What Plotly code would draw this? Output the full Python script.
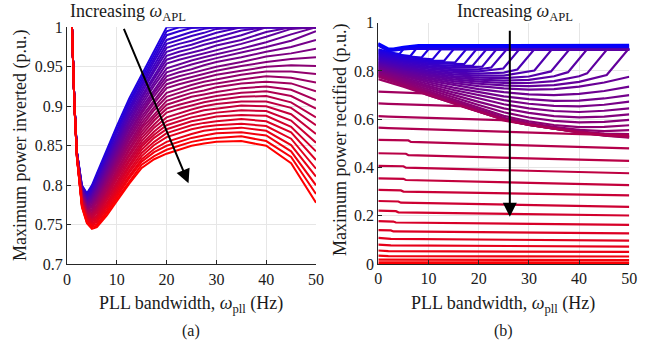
import plotly.graph_objects as go

W, H = 661, 340
FONT = "Liberation Serif"
TXT = "#1a1a1a"
AX = "#262626"
GRID = "#e6e6e6"

# ---------------- (a) Maximum power inverted ----------------
INV_X = [1, 1.5, 2, 3, 4, 5, 6, 8, 10, 12.5, 15, 17.5, 20, 22.5, 25, 27.5, 30, 35, 40, 45, 50]
# rows ordered from highest omega_APL (red, lowest curve) to lowest omega_APL (blue, highest curve)
INV_Y = [
    [1.0, 0.900, 0.835, 0.772, 0.752, 0.745, 0.747, 0.762, 0.780, 0.802, 0.822, 0.833, 0.840, 0.845, 0.850, 0.853, 0.855, 0.856, 0.850, 0.828, 0.778],
    [1.0, 0.900, 0.835, 0.773, 0.753, 0.747, 0.749, 0.765, 0.783, 0.805, 0.826, 0.837, 0.845, 0.850, 0.855, 0.858, 0.860, 0.862, 0.856, 0.836, 0.789],
    [1.0, 0.900, 0.835, 0.774, 0.754, 0.749, 0.751, 0.767, 0.786, 0.809, 0.830, 0.842, 0.850, 0.855, 0.860, 0.863, 0.866, 0.867, 0.863, 0.843, 0.800],
    [1.0, 0.900, 0.836, 0.775, 0.756, 0.750, 0.754, 0.770, 0.789, 0.812, 0.833, 0.846, 0.855, 0.860, 0.865, 0.869, 0.871, 0.873, 0.869, 0.851, 0.811],
    [1.0, 0.900, 0.836, 0.776, 0.757, 0.752, 0.756, 0.773, 0.792, 0.816, 0.837, 0.851, 0.861, 0.866, 0.871, 0.874, 0.876, 0.878, 0.875, 0.859, 0.821],
    [1.0, 0.900, 0.836, 0.776, 0.758, 0.754, 0.758, 0.775, 0.795, 0.819, 0.841, 0.855, 0.866, 0.871, 0.876, 0.879, 0.881, 0.884, 0.881, 0.867, 0.832],
    [1.0, 0.900, 0.836, 0.777, 0.759, 0.756, 0.760, 0.778, 0.798, 0.823, 0.845, 0.860, 0.871, 0.876, 0.881, 0.884, 0.887, 0.889, 0.888, 0.874, 0.843],
    [1.0, 0.900, 0.837, 0.778, 0.761, 0.757, 0.762, 0.781, 0.801, 0.826, 0.849, 0.864, 0.876, 0.881, 0.886, 0.889, 0.892, 0.895, 0.894, 0.882, 0.854],
    [1.0, 0.901, 0.837, 0.779, 0.762, 0.759, 0.765, 0.783, 0.804, 0.830, 0.852, 0.868, 0.881, 0.886, 0.891, 0.895, 0.897, 0.901, 0.900, 0.890, 0.865],
    [1.0, 0.901, 0.837, 0.780, 0.763, 0.761, 0.767, 0.786, 0.808, 0.833, 0.856, 0.873, 0.886, 0.891, 0.896, 0.900, 0.903, 0.906, 0.906, 0.898, 0.876],
    [1.0, 0.901, 0.837, 0.781, 0.764, 0.763, 0.769, 0.789, 0.811, 0.837, 0.860, 0.877, 0.892, 0.897, 0.901, 0.905, 0.908, 0.912, 0.913, 0.905, 0.886],
    [1.0, 0.901, 0.837, 0.782, 0.766, 0.764, 0.771, 0.791, 0.814, 0.840, 0.864, 0.882, 0.897, 0.902, 0.906, 0.910, 0.913, 0.917, 0.919, 0.913, 0.897],
    [1.0, 0.901, 0.838, 0.783, 0.767, 0.766, 0.773, 0.794, 0.817, 0.844, 0.868, 0.886, 0.902, 0.907, 0.912, 0.915, 0.918, 0.923, 0.925, 0.921, 0.908],
    [1.0, 0.901, 0.838, 0.784, 0.768, 0.768, 0.775, 0.797, 0.820, 0.847, 0.872, 0.890, 0.907, 0.912, 0.917, 0.920, 0.924, 0.929, 0.931, 0.929, 0.919],
    [1.0, 0.901, 0.838, 0.785, 0.769, 0.770, 0.778, 0.800, 0.823, 0.851, 0.875, 0.895, 0.912, 0.917, 0.922, 0.926, 0.929, 0.934, 0.938, 0.936, 0.930],
    [1.0, 0.901, 0.838, 0.786, 0.770, 0.772, 0.780, 0.802, 0.826, 0.854, 0.879, 0.899, 0.917, 0.922, 0.927, 0.931, 0.934, 0.940, 0.944, 0.944, 0.941],
    [1.0, 0.902, 0.839, 0.786, 0.772, 0.773, 0.782, 0.805, 0.829, 0.858, 0.883, 0.904, 0.923, 0.928, 0.932, 0.936, 0.940, 0.945, 0.950, 0.952, 0.951],
    [1.0, 0.902, 0.839, 0.787, 0.773, 0.775, 0.784, 0.808, 0.832, 0.861, 0.887, 0.908, 0.928, 0.933, 0.937, 0.941, 0.945, 0.951, 0.956, 0.960, 0.962],
    [1.0, 0.902, 0.839, 0.788, 0.774, 0.777, 0.786, 0.810, 0.835, 0.865, 0.891, 0.913, 0.933, 0.938, 0.942, 0.946, 0.950, 0.956, 0.963, 0.967, 0.973],
    [1.0, 0.902, 0.839, 0.789, 0.775, 0.779, 0.789, 0.813, 0.838, 0.868, 0.894, 0.917, 0.938, 0.943, 0.947, 0.952, 0.956, 0.962, 0.969, 0.975, 0.984],
    [1.0, 0.902, 0.840, 0.790, 0.777, 0.780, 0.791, 0.816, 0.841, 0.872, 0.898, 0.921, 0.943, 0.948, 0.953, 0.957, 0.961, 0.968, 0.975, 0.983, 0.995],
    [1.0, 0.902, 0.840, 0.791, 0.778, 0.782, 0.793, 0.818, 0.844, 0.875, 0.902, 0.926, 0.948, 0.953, 0.958, 0.962, 0.966, 0.973, 0.981, 0.991, 1.0],
    [1.0, 0.902, 0.840, 0.792, 0.779, 0.784, 0.795, 0.821, 0.847, 0.879, 0.906, 0.930, 0.954, 0.959, 0.963, 0.967, 0.971, 0.979, 0.988, 0.998, 1.0],
    [1.0, 0.902, 0.840, 0.793, 0.780, 0.786, 0.797, 0.824, 0.850, 0.882, 0.910, 0.935, 0.959, 0.964, 0.968, 0.972, 0.977, 0.984, 0.994, 1.0, 1.0],
    [1.0, 0.903, 0.840, 0.794, 0.782, 0.787, 0.800, 0.826, 0.853, 0.886, 0.913, 0.939, 0.964, 0.969, 0.973, 0.978, 0.982, 0.990, 1.0, 1.0, 1.0],
    [1.0, 0.903, 0.841, 0.795, 0.783, 0.789, 0.802, 0.829, 0.857, 0.889, 0.917, 0.944, 0.969, 0.974, 0.978, 0.983, 0.987, 0.996, 1.0, 1.0, 1.0],
    [1.0, 0.903, 0.841, 0.795, 0.784, 0.791, 0.804, 0.832, 0.860, 0.893, 0.921, 0.948, 0.974, 0.979, 0.983, 0.988, 0.993, 1.0, 1.0, 1.0, 1.0],
    [1.0, 0.903, 0.841, 0.796, 0.785, 0.793, 0.806, 0.834, 0.863, 0.896, 0.925, 0.952, 0.979, 0.984, 0.989, 0.993, 0.998, 1.0, 1.0, 1.0, 1.0],
    [1.0, 0.903, 0.841, 0.797, 0.786, 0.795, 0.808, 0.837, 0.866, 0.899, 0.929, 0.957, 0.984, 0.989, 0.994, 0.998, 1.0, 1.0, 1.0, 1.0, 1.0],
    [1.0, 0.903, 0.842, 0.798, 0.788, 0.796, 0.811, 0.840, 0.869, 0.903, 0.932, 0.961, 0.990, 0.995, 0.999, 1.0, 1.0, 1.0, 1.0, 1.0, 1.0],
    [1.0, 0.903, 0.842, 0.799, 0.789, 0.798, 0.813, 0.842, 0.872, 0.906, 0.936, 0.966, 0.995, 1.0, 1.0, 1.0, 1.0, 1.0, 1.0, 1.0, 1.0],
    [1.0, 0.903, 0.842, 0.800, 0.790, 0.800, 0.815, 0.845, 0.875, 0.910, 0.940, 0.970, 1.0, 1.0, 1.0, 1.0, 1.0, 1.0, 1.0, 1.0, 1.0],
]

# ---------------- (b) Maximum power rectified ----------------
# curves listed from lowest omega_APL (blue, top) to highest (red, bottom)
TOP_X = [0, 1, 2, 3, 5, 8, 50]
TOP_Y = [
    [0.915, 0.905, 0.893, 0.893, 0.900, 0.907, 0.908],
    [0.912, 0.900, 0.888, 0.890, 0.897, 0.902, 0.903],
    [0.908, 0.896, 0.885, 0.887, 0.893, 0.897, 0.898],
    [0.905, 0.892, 0.882, 0.884, 0.889, 0.893, 0.893],
]
HOOK_X = [
    [0, 2, 4.2, 5, 50],
    [0, 3, 6.4, 7.5, 50],
    [0, 4, 8.6, 10, 50],
    [0, 5, 10.8, 12.5, 50],
    [0, 5, 10, 13.1, 15, 50],
    [0, 5, 10, 15.3, 17.5, 50],
    [0, 5, 10, 15, 17.1, 19.5, 50],
    [0, 5, 10, 15, 18.8, 21.5, 50],
    [0, 5, 10, 15, 20.7, 23.5, 50],
    [0, 5, 10, 15, 20, 22.5, 25.5, 50],
    [0, 5, 10, 15, 20, 24.9, 28, 50],
    [0, 5, 10, 15, 20, 25, 27.7, 31, 50],
    [0, 5, 10, 15, 20, 25, 31.1, 34.5, 50],
    [0, 5, 10, 15, 20, 25, 30, 34.4, 38, 50],
    [0, 5, 10, 15, 20, 25, 30, 35, 37.8, 41.5, 50],
    [0, 5, 10, 15, 20, 25, 30, 35, 40, 41.6, 45.5, 50],
    [0, 5, 10, 15, 20, 25, 30, 35, 40, 45.5, 49.7, 50],
]
HOOK_Y = [
    [0.890, 0.878, 0.870, 0.891, 0.891],
    [0.885, 0.870, 0.862, 0.891, 0.891],
    [0.880, 0.864, 0.855, 0.890, 0.890],
    [0.875, 0.857, 0.848, 0.890, 0.890],
    [0.870, 0.851, 0.843, 0.842, 0.890, 0.890],
    [0.865, 0.847, 0.838, 0.835, 0.890, 0.890],
    [0.860, 0.842, 0.832, 0.828, 0.828, 0.889, 0.889],
    [0.855, 0.837, 0.826, 0.821, 0.822, 0.889, 0.889],
    [0.850, 0.832, 0.820, 0.814, 0.818, 0.889, 0.889],
    [0.845, 0.826, 0.814, 0.807, 0.807, 0.814, 0.888, 0.888],
    [0.840, 0.821, 0.808, 0.800, 0.798, 0.810, 0.888, 0.888],
    [0.836, 0.816, 0.802, 0.793, 0.789, 0.793, 0.806, 0.888, 0.888],
    [0.832, 0.811, 0.796, 0.786, 0.781, 0.781, 0.802, 0.888, 0.888],
    [0.828, 0.806, 0.790, 0.779, 0.772, 0.770, 0.777, 0.798, 0.888, 0.888],
    [0.824, 0.801, 0.784, 0.772, 0.764, 0.760, 0.763, 0.778, 0.795, 0.888, 0.888],
    [0.820, 0.797, 0.779, 0.765, 0.756, 0.750, 0.750, 0.758, 0.778, 0.790, 0.888, 0.888],
    [0.816, 0.792, 0.773, 0.758, 0.747, 0.740, 0.737, 0.741, 0.755, 0.783, 0.888, 0.888],
]
U_X = [0, 5, 10, 15, 20, 25, 30, 35, 40, 45, 50]
U_Y = [
    [0.812, 0.787, 0.767, 0.750, 0.737, 0.728, 0.723, 0.725, 0.735, 0.752, 0.776],
    [0.808, 0.782, 0.760, 0.741, 0.725, 0.712, 0.703, 0.700, 0.705, 0.717, 0.735],
    [0.804, 0.777, 0.753, 0.731, 0.712, 0.695, 0.683, 0.676, 0.677, 0.686, 0.700],
    [0.800, 0.772, 0.746, 0.721, 0.699, 0.679, 0.664, 0.655, 0.653, 0.660, 0.673],
    [0.796, 0.766, 0.738, 0.711, 0.686, 0.662, 0.645, 0.634, 0.630, 0.635, 0.645],
    [0.792, 0.761, 0.730, 0.701, 0.672, 0.645, 0.626, 0.613, 0.608, 0.611, 0.620],
    [0.788, 0.755, 0.722, 0.691, 0.659, 0.629, 0.607, 0.593, 0.587, 0.589, 0.597],
    [0.784, 0.750, 0.715, 0.681, 0.647, 0.614, 0.591, 0.576, 0.567, 0.568, 0.575],
    [0.780, 0.745, 0.710, 0.675, 0.640, 0.606, 0.584, 0.568, 0.556, 0.551, 0.555],
    [0.776, 0.740, 0.705, 0.670, 0.635, 0.602, 0.580, 0.564, 0.550, 0.540, 0.538],
]
MERGE_X = [
    [0, 5, 10, 15, 20, 25, 30, 35, 40, 45, 50],
    [0, 2, 9, 10, 15, 20, 25, 30, 35, 40, 45, 50],
    [0, 2, 16.5, 20, 25, 30, 35, 40, 45, 50],
    [0, 2, 24.5, 30, 35, 40, 45, 50],
    [0, 2, 45, 50],
]
MERGE_Y = [
    [0.766, 0.735, 0.700, 0.665, 0.630, 0.598, 0.576, 0.560, 0.545, 0.532, 0.524],
    [0.714, 0.713, 0.707, 0.700, 0.665, 0.630, 0.598, 0.576, 0.560, 0.545, 0.533, 0.526],
    [0.666, 0.664, 0.654, 0.630, 0.598, 0.576, 0.560, 0.546, 0.534, 0.528],
    [0.613, 0.611, 0.596, 0.577, 0.561, 0.547, 0.535, 0.530],
    [0.565, 0.563, 0.535, 0.532],
]
LOW_X = [
    [0, 6, 6.5, 50], [0, 5.5, 6, 50], [0, 5, 5.5, 50], [0, 5, 5.5, 50],
    [0, 4.5, 5, 50], [0, 4, 4.5, 50], [0, 3.5, 4, 50], [0, 3, 3.5, 50],
    [0, 2.5, 3, 50], [0, 2, 2.5, 50], [0, 2, 2.5, 50], [0, 1.5, 2, 50],
    [0, 1.5, 2, 50], [0, 50], [0, 50], [0, 50],
]
LOW_Y = [
    [0.514, 0.512, 0.506, 0.479], [0.459, 0.457, 0.451, 0.427], [0.407, 0.405, 0.399, 0.376],
    [0.355, 0.353, 0.348, 0.327], [0.307, 0.305, 0.300, 0.284], [0.261, 0.259, 0.254, 0.237],
    [0.221, 0.219, 0.214, 0.201], [0.178, 0.176, 0.172, 0.162], [0.140, 0.139, 0.135, 0.127],
    [0.108, 0.107, 0.104, 0.097], [0.080, 0.079, 0.077, 0.072], [0.056, 0.055, 0.053, 0.050],
    [0.035, 0.034, 0.033, 0.031], [0.018, 0.016], [0.007, 0.006], [0.0, 0.0],
]

INV_YTICKS = [0.7, 0.75, 0.8, 0.85, 0.9, 0.95, 1]
INV_YTEXT = ["0.7", "0.75", "0.8", "0.85", "0.9", "0.95", "1"]
REC_YTICKS = [0, 0.2, 0.4, 0.6, 0.8, 1]
REC_YTEXT = ["0", "0.2", "0.4", "0.6", "0.8", "1"]
XTICKS = [0, 10, 20, 30, 40, 50]


def col(t):
    # t = 0 -> blue, t = 1 -> red
    return "rgb(%d,0,%d)" % (round(255 * t), round(255 * (1 - t)))


fig = go.Figure()

n = len(INV_Y)
for j in range(n - 1, -1, -1):
    t = 0.12 + 0.88 * (1 - j / (n - 1))
    fig.add_trace(go.Scatter(x=INV_X, y=INV_Y[j], mode="lines", xaxis="x", yaxis="y",
                             line=dict(color=col(t), width=2.0),
                             showlegend=False, hoverinfo="skip"))

rec = []
for yy in TOP_Y:
    rec.append((TOP_X, yy))
for xx, yy in zip(HOOK_X, HOOK_Y):
    rec.append((xx, yy))
for yy in U_Y:
    rec.append((U_X, yy))
for xx, yy in zip(MERGE_X, MERGE_Y):
    rec.append((xx, yy))
for xx, yy in zip(LOW_X, LOW_Y):
    rec.append((xx, yy))
m = len(rec)
for i, (xx, yy) in enumerate(rec):
    fig.add_trace(go.Scatter(x=xx, y=yy, mode="lines", xaxis="x2", yaxis="y2",
                             line=dict(color=col(i / (m - 1)), width=2.2),
                             showlegend=False, hoverinfo="skip"))


def px_x(p):
    return p / W


def px_y(p):
    return 1 - p / H


axis_common = dict(showgrid=True, gridcolor=GRID, gridwidth=1, showline=True, linecolor=AX,
                   linewidth=1, zeroline=False, automargin=False, ticks="inside", ticklen=4,
                   tickcolor=AX, mirror=False, tickfont=dict(family=FONT, size=16, color=TXT),
                   fixedrange=True)

fig.update_layout(
    template="none",
    width=W, height=H, margin=dict(l=0, r=0, t=0, b=0, pad=0),
    paper_bgcolor="white", plot_bgcolor="white",
    xaxis=dict(domain=[px_x(67), px_x(316)], range=[0, 50], tickvals=XTICKS, anchor="y",
               **axis_common),
    yaxis=dict(domain=[px_y(264.3), px_y(27.3)], range=[0.7, 1], tickvals=INV_YTICKS,
               ticktext=INV_YTEXT, anchor="x", **axis_common),
    xaxis2=dict(domain=[px_x(378.3), px_x(629.3)], range=[0, 50], tickvals=XTICKS, anchor="y2",
                **axis_common),
    yaxis2=dict(domain=[px_y(264), px_y(22.7)], range=[0, 1], tickvals=REC_YTICKS,
                ticktext=REC_YTEXT, anchor="x2", **axis_common),
)

tf = dict(family=FONT, size=18, color=TXT)
ann = [
    dict(text="Maximum power inverted (p.u.)", x=px_x(20), y=px_y(146), textangle=-90),
    dict(text="Maximum power rectified (p.u.)", x=px_x(340), y=px_y(140), textangle=-90),
    dict(text="PLL bandwidth, <i>ω</i><sub>pll</sub> (Hz)", x=px_x(191), y=px_y(304)),
    dict(text="PLL bandwidth, <i>ω</i><sub>pll</sub> (Hz)", x=px_x(503), y=px_y(304)),
]
for a in ann:
    fig.add_annotation(xref="paper", yref="paper", showarrow=False, font=tf,
                       xanchor="center", yanchor="middle", **a)

for t, xc in (("(a)", 191), ("(b)", 503)):
    fig.add_annotation(text=t, xref="paper", yref="paper", x=px_x(xc), y=px_y(331),
                       showarrow=False, font=dict(family=FONT, size=16, color=TXT),
                       xanchor="center", yanchor="middle")

fig.add_annotation(text="Increasing <i>ω</i><sub>APL</sub>", xref="paper", yref="paper",
                   x=px_x(68), y=px_y(13), xanchor="left", yanchor="middle", showarrow=False, font=tf)
fig.add_annotation(text="Increasing <i>ω</i><sub>APL</sub>", xref="paper", yref="paper",
                   x=px_x(455), y=px_y(13), xanchor="left", yanchor="middle", showarrow=False, font=tf)

# arrows
fig.add_annotation(x=24.4, y=0.8025, ax=11.3, ay=1.0, xref="x", yref="y", axref="x", ayref="y",
                   text="", showarrow=True, arrowhead=2, arrowsize=1.4, arrowwidth=2, arrowcolor="black")
fig.add_annotation(x=26.2, y=0.196, ax=26.2, ay=0.973, xref="x2", yref="y2", axref="x2", ayref="y2",
                   text="", showarrow=True, arrowhead=2, arrowsize=1.4, arrowwidth=2, arrowcolor="black")

fig.write_html("out.html")
